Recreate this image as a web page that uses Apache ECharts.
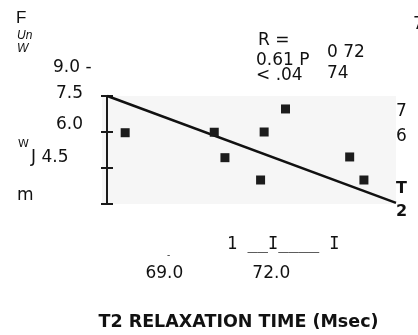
<!DOCTYPE html>
<html>
<head>
<meta charset="utf-8">
<script src="https://cdn.jsdelivr.net/npm/echarts@6/dist/echarts.min.js"></script>
<style>
  html, body { margin: 0; padding: 0; background: #fff; }
  #chart { width: 418px; height: 335px; }
</style>
</head>
<body>
<div id="chart"></div>
<script>
// Measured points: T2 relaxation time (ms) against the score on the vertical axis
const t2Times = [67.9, 70.4, 70.7, 71.8, 71.7, 72.4, 74.2, 74.6];
const scores  = [5.97, 5.99, 4.93, 6.0, 4.0, 6.96, 4.96, 4.0];

// Least-squares fit line, drawn between its two end values
const fitX = [67.4, 75.5];
const fitY = [7.5, 3.05];

// Axis ticks and labels
const yTickValues = [3.0, 4.5, 6.0, 7.5];
const xLabelValues = [69, 72];
const xLabelTexts = ['69.0', '72.0'];
const yLabelTexts = ['9.0 -', '7.5', '6.0', 'J 4.5', 'm'];

// Annotation text
const statsLeft = ['R =', '0.61 P', '< .04'];
const statsRight = ['0 72', '74'];
const rightEdgeTexts = ['7', '6'];
const rightEdgeBold = ['T', '2'];
const xAxisTitle = 'T2 RELAXATION TIME (Msec)';

const sans = '"DejaVu Sans", Verdana, sans-serif';
const ink = '#111';

const chart = echarts.init(document.getElementById('chart'), null, { renderer: 'canvas' });

function txt(text, x, y, font, align) {
  return {
    type: 'text', x: x, y: y, silent: true,
    style: { text: text, font: font, fill: ink, verticalAlign: 'middle', align: align || 'left' }
  };
}

const graphics = [
  txt('F', 16, 18, '17px "Liberation Sans", Arial, sans-serif'),
  txt('Un', 17, 36, 'italic 12px "Liberation Sans", Arial, sans-serif'),
  txt('W', 17, 49, 'italic 12px "Liberation Sans", Arial, sans-serif'),
  txt(yLabelTexts[0], 53, 68, '17px ' + sans),
  txt(yLabelTexts[1], 56, 94, '17px ' + sans),
  txt(yLabelTexts[2], 56, 125, '17px ' + sans),
  txt('W', 18, 144, '11px ' + sans),
  txt(yLabelTexts[3], 31, 158, '17px ' + sans),
  txt(yLabelTexts[4], 17, 196, '17px ' + sans),
  txt(statsLeft[0], 258, 41, '17px ' + sans),
  txt(statsLeft[1], 256, 61, '17px ' + sans),
  txt(statsLeft[2], 256, 76, '17px ' + sans),
  txt(statsRight[0], 327, 53, '17px ' + sans),
  txt(statsRight[1], 327, 74, '17px ' + sans),
  txt('7', 413, 25, '17px ' + sans),
  txt(rightEdgeTexts[0], 396, 112, '17px ' + sans),
  txt(rightEdgeTexts[1], 396, 137, '17px ' + sans),
  txt(rightEdgeBold[0], 396, 189, 'bold 16px ' + sans),
  txt(rightEdgeBold[1], 396, 212, 'bold 16px ' + sans),
  txt('1 __I____ I', 227, 245, '17px "DejaVu Sans Mono", monospace'),
  txt('-', 167, 256, '9px ' + sans),
  txt(xAxisTitle, 238.5, 322, 'bold 17.5px ' + sans, 'center')
];

const option = {
  animation: false,
  backgroundColor: '#ffffff',
  grid: {
    left: 102, right: 22, top: 96, bottom: 131,
    show: true, backgroundColor: '#f6f6f6', borderWidth: 0
  },
  xAxis: {
    type: 'value', min: 67.25, max: 75.5,
    axisLine: { show: false },
    axisTick: { show: false },
    splitLine: { show: false },
    axisLabel: {
      show: true, customValues: xLabelValues, margin: 61,
      color: ink, fontSize: 17, fontFamily: sans,
      formatter: function (v) { return xLabelTexts[xLabelValues.indexOf(v)] || ''; }
    }
  },
  yAxis: [
    {
      type: 'value', min: yTickValues[0], max: yTickValues[yTickValues.length - 1], interval: 1.5, offset: -5,
      axisLine: { show: true, lineStyle: { color: '#1a1a1a', width: 2 } },
      axisTick: { show: true, length: 6, lineStyle: { color: '#1a1a1a', width: 2 } },
      axisLabel: { show: false },
      splitLine: { show: false }
    },
    {
      type: 'value', min: yTickValues[0], max: yTickValues[yTickValues.length - 1], interval: 1.5, offset: -5, position: 'left',
      axisLine: { show: false },
      axisTick: { show: true, inside: true, length: 6, lineStyle: { color: '#1a1a1a', width: 2 } },
      axisLabel: { show: false },
      splitLine: { show: false }
    }
  ],
  series: [
    {
      type: 'line',
      data: fitX.map(function (x, i) { return [x, fitY[i]]; }),
      showSymbol: false, symbol: 'none',
      lineStyle: { color: '#111', width: 2.5 },
      clip: false, z: 2
    },
    {
      type: 'scatter',
      data: t2Times.map(function (x, i) { return [x, scores[i]]; }),
      symbol: 'rect', symbolSize: 9,
      itemStyle: { color: '#1c1c1c', opacity: 1 },
      z: 3
    }
  ],
  graphic: graphics
};

chart.setOption(option);
</script>
</body>
</html>
